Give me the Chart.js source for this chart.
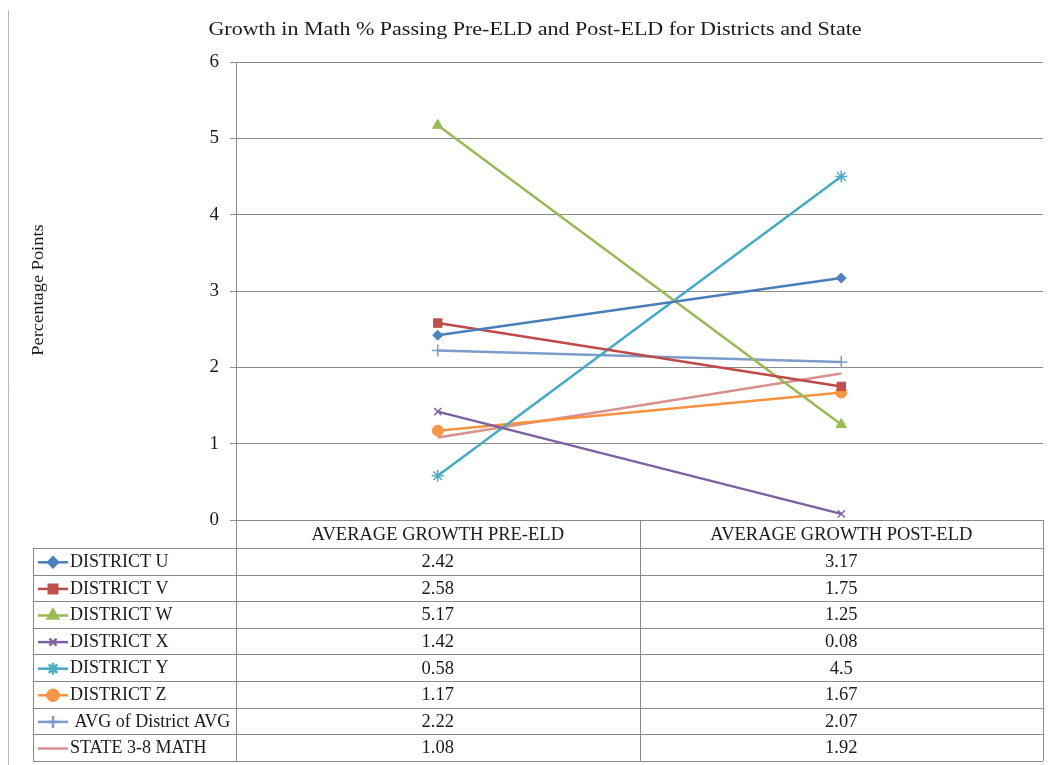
<!DOCTYPE html>
<html>
<head>
<meta charset="utf-8">
<script src="https://cdn.jsdelivr.net/npm/chart.js@4.4.1/dist/chart.umd.min.js"></script>
<style>
  body { margin: 0; background: #fff; }
  canvas { display: block; }
</style>
</head>
<body>
<canvas id="growthChart" width="1054" height="765"></canvas>
<script>
const categories = ['AVERAGE GROWTH PRE-ELD', 'AVERAGE GROWTH POST-ELD'];
const seriesNames = ['DISTRICT U', 'DISTRICT V', 'DISTRICT W', 'DISTRICT X', 'DISTRICT Y', 'DISTRICT Z', ' AVG of District AVG', 'STATE 3-8 MATH'];
const districtU = [2.42, 3.17];
const districtV = [2.58, 1.75];
const districtW = [5.17, 1.25];
const districtX = [1.42, 0.08];
const districtY = [0.58, 4.5];
const districtZ = [1.17, 1.67];
const avgOfDistrictAvg = [2.22, 2.07];
const stateMath = [1.08, 1.92];
const yTicks = [0, 1, 2, 3, 4, 5, 6];

const serif = '"Liberation Serif", "Times New Roman", serif';
const gridColor = '#8a8a8a';
const textColor = '#1a1a1a';

// line colour, marker fill, marker style, marker radius
const styles = [
    ['#4A7EBB', '#4F81BD', 'rectRot', 5],
    ['#BE4B48', '#C0504D', 'rect', 6],
    ['#98B954', '#9BBB59', 'triangle', 6],
    ['#7D60A0', '#8064A2', 'crossRot', 5],
    ['#46AAC5', '#4BACC6', 'star', 6],
    ['#F69240', '#F79646', 'circle', 5.5],
    ['#7C9CC9', '#7C9CC9', 'cross', 6],
    ['#D8918F', '#D8918F', false, 0]
];
const seriesData = [districtU, districtV, districtW, districtX, districtY, districtZ, avgOfDistrictAvg, stateMath];

const datasets = seriesNames.map((name, i) => {
    const [line, fill, marker, radius] = styles[i];
    return {
        label: name,
        data: seriesData[i],
        borderColor: line,
        backgroundColor: fill,
        borderWidth: 2.5,
        pointStyle: marker,
        pointRadius: radius,
        pointBackgroundColor: fill,
        pointBorderColor: fill,
        pointBorderWidth: (marker === 'crossRot' || marker === 'star' || marker === 'cross') ? 1.5 : 1
    };
});

// wide text drawn with a horizontal stretch
function stretchedText(ctx, text, x, y, sx) {
    ctx.save();
    ctx.translate(x, y);
    ctx.scale(sx, 1);
    ctx.fillText(text, 0, 0);
    ctx.restore();
}

// Title, axis caption and the data table under the plot
const tablePlugin = {
    id: 'dataTable',
    afterDraw(chart) {
        const ctx = chart.ctx;
        const area = chart.chartArea;
        const xScale = chart.scales.x;
        const left = 33;
        const mid = (area.left + area.right) / 2;
        const headerBottom = area.bottom + 28;
        const rowH = 26.6;
        const tableBottom = headerBottom + rowH * seriesNames.length;

        ctx.save();

        // outer frame edge
        ctx.strokeStyle = '#b8b8b8';
        ctx.lineWidth = 1;
        ctx.beginPath();
        ctx.moveTo(8.5, 10);
        ctx.lineTo(8.5, 765);
        ctx.stroke();

        ctx.fillStyle = textColor;
        ctx.textAlign = 'center';
        ctx.textBaseline = 'middle';
        ctx.font = '19px ' + serif;
        stretchedText(ctx, 'Growth in Math % Passing Pre-ELD and Post-ELD for Districts and State', 535, 30, 1.16);

        ctx.save();
        ctx.translate(39, 290);
        ctx.rotate(-Math.PI / 2);
        ctx.font = '16px ' + serif;
        stretchedText(ctx, 'Percentage Points', 0, 0, 1.15);
        ctx.restore();

        // table grid
        ctx.strokeStyle = gridColor;
        ctx.lineWidth = 1;
        ctx.beginPath();
        [area.left, mid, area.right].forEach(x => {
            const px = Math.round(x) + 0.5;
            ctx.moveTo(px, area.bottom);
            ctx.lineTo(px, tableBottom);
        });
        ctx.moveTo(left + 0.5, headerBottom);
        ctx.lineTo(left + 0.5, tableBottom);
        for (let r = 0; r <= seriesNames.length; r++) {
            const py = Math.round(headerBottom + r * rowH) + 0.5;
            ctx.moveTo(left, py);
            ctx.lineTo(area.right, py);
        }
        ctx.stroke();

        ctx.font = '18.5px ' + serif;
        categories.forEach((c, j) => {
            ctx.fillText(c, xScale.getPixelForValue(j), (area.bottom + headerBottom) / 2 + 1);
        });

        seriesNames.forEach((name, i) => {
            const cy = headerBottom + rowH * (i + 0.5) + 1;
            const [line, fill, marker, radius] = styles[i];
            ctx.strokeStyle = line;
            ctx.lineWidth = 2.5;
            ctx.beginPath();
            ctx.moveTo(38, cy);
            ctx.lineTo(68, cy);
            ctx.stroke();
            if (marker) {
                ctx.fillStyle = fill;
                ctx.strokeStyle = fill;
                Chart.helpers.drawPoint(ctx, {
                    pointStyle: marker,
                    radius: radius,
                    borderWidth: datasets[i].pointBorderWidth,
                    rotation: 0
                }, 53, cy);
            }
            ctx.fillStyle = textColor;
            ctx.textAlign = 'left';
            ctx.font = '18px ' + serif;
            ctx.fillText(name, 70, cy);
            ctx.textAlign = 'center';
            ctx.font = '18.5px ' + serif;
            seriesData[i].forEach((v, j) => {
                ctx.fillText(String(v), xScale.getPixelForValue(j), cy);
            });
        });

        ctx.restore();
    }
};

const chart = new Chart(document.getElementById('growthChart').getContext('2d'), {
    type: 'line',
    data: { labels: categories, datasets: datasets },
    options: {
        responsive: false,
        animation: false,
        layout: { padding: { top: 62, left: 176, right: 11, bottom: 245 } },
        plugins: {
            legend: { display: false },
            title: { display: false },
            tooltip: { enabled: false }
        },
        scales: {
            x: {
                offset: true,
                grid: { display: false },
                border: { display: true, color: gridColor, width: 1 },
                ticks: { display: false },
                afterFit(scale) { scale.height = 0; }
            },
            y: {
                min: 0,
                max: 6,
                afterBuildTicks(scale) { scale.ticks = yTicks.map(v => ({ value: v })); },
                grid: { color: gridColor, lineWidth: 1, tickLength: 6 },
                border: { display: true, color: gridColor, width: 1 },
                ticks: {
                    padding: 11,
                    color: textColor,
                    font: { family: serif, size: 19 }
                },
                afterFit(scale) { scale.width = 60; }
            }
        }
    },
    plugins: [tablePlugin]
});
</script>
</body>
</html>
